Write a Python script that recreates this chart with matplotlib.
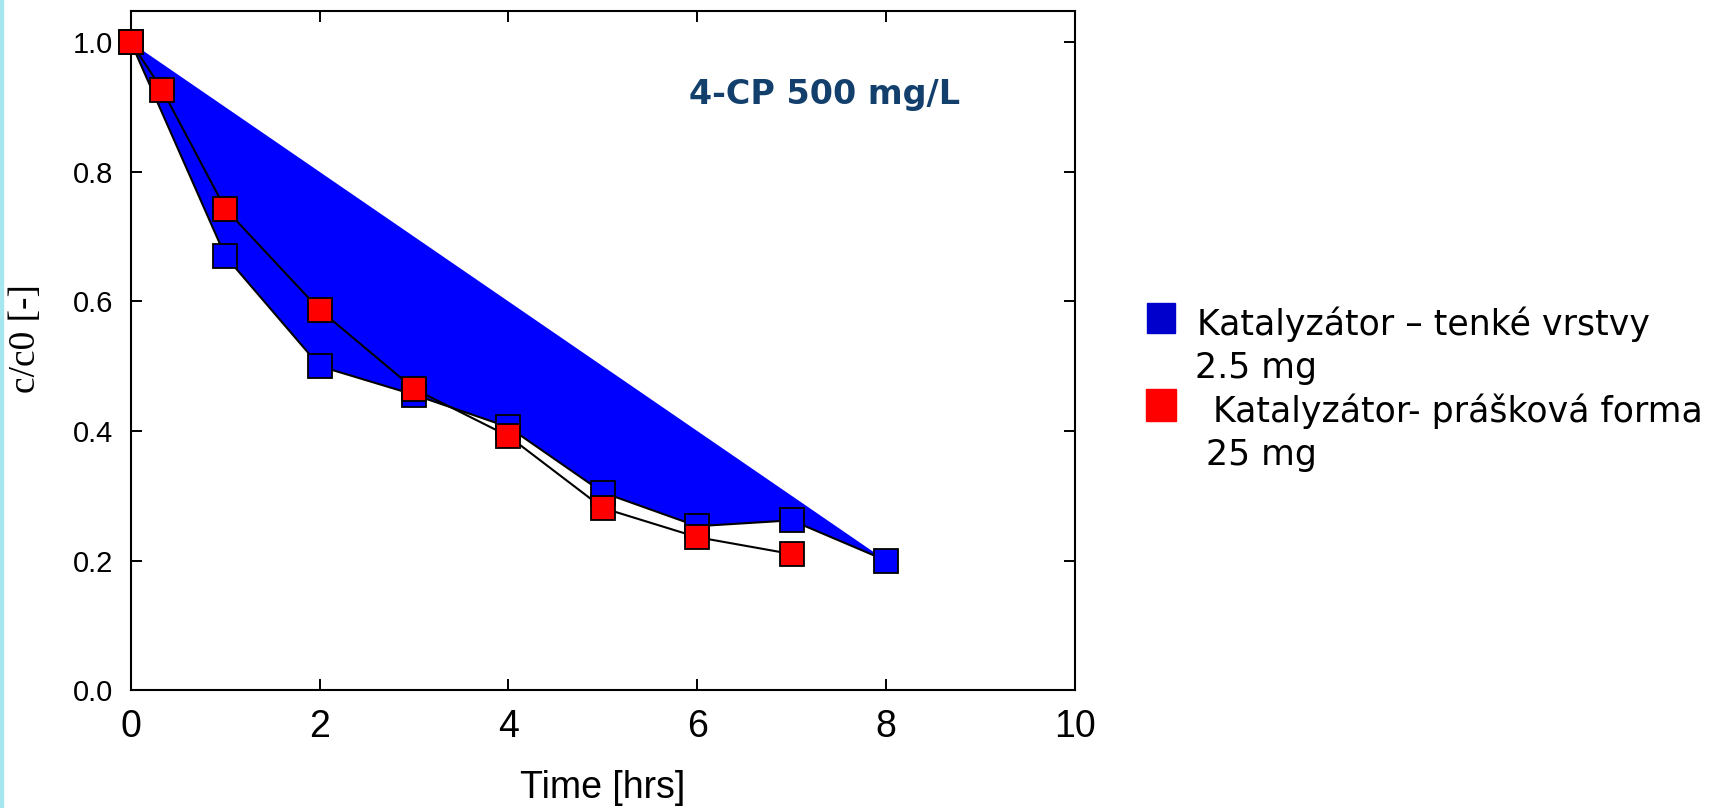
import matplotlib
matplotlib.use("Agg")
import matplotlib.pyplot as plt
from matplotlib.patches import Rectangle

# data
t_blue = [0, 1, 2, 3, 4, 5, 6, 7, 8]
c_blue = [1.0, 0.670, 0.500, 0.456, 0.406, 0.305, 0.253, 0.262, 0.200]
t_red = [0, 0.33, 1, 2, 3, 4, 5, 6, 7]
c_red = [1.0, 0.927, 0.743, 0.587, 0.465, 0.392, 0.281, 0.236, 0.210]

x_ticks = [0, 2, 4, 6, 8, 10]
y_ticks = [0.0, 0.2, 0.4, 0.6, 0.8, 1.0]

fig = plt.figure(figsize=(17.1, 8.08), dpi=100)
ax = fig.add_axes([0.0766, 0.146, 0.5519, 0.8408])

# filled area of the thin-layer series, then outlines
ax.fill(t_blue, c_blue, color="#0000FF", lw=0, zorder=1)
ax.plot(t_blue, c_blue, color="black", lw=1.5, zorder=2)
ax.plot(t_red, c_red, color="black", lw=1.5, zorder=3)
ax.plot(t_blue, c_blue, ls="none", marker="s", ms=17, mfc="#0000FF",
        mec="black", mew=1.3, zorder=4, clip_on=False)
ax.plot(t_red, c_red, ls="none", marker="s", ms=17, mfc="#FF0000",
        mec="black", mew=1.3, zorder=5, clip_on=False)

ax.set_xlim(0, 10)
ax.set_ylim(0, 1.049)
ax.set_xticks(x_ticks)
ax.set_xticklabels([str(v) for v in x_ticks],
                   family=["Liberation Sans Narrow", "Liberation Sans"], fontsize=27)
ax.set_yticks(y_ticks)
ax.set_yticklabels([f"{v:.1f}" for v in y_ticks], family="Liberation Sans", fontsize=21)
ax.tick_params(direction="in", length=8, width=1.4, top=True, right=True)
ax.tick_params(axis="y", pad=13)
ax.tick_params(axis="x", pad=14)
for s in ax.spines.values():
    s.set_linewidth(1.5)

ax.set_xlabel("Time [hrs]", family="Liberation Sans", fontsize=27)
ax.xaxis.set_label_coords(0.5, -0.117)
ax.set_ylabel("c/c0 [-]", family="Liberation Serif", fontsize=27, va="center")
ax.yaxis.set_label_coords(-0.112, 0.518)

ax.text(0.735, 0.877, "4-CP 500 mg/L", transform=ax.transAxes, ha="center",
        va="center", fontsize=24, fontweight="bold", color="#123F6C",
        family="DejaVu Sans")

# legend drawn by hand to mimic the layout
W, H = 1710, 808
def fx(px):
    return px / W
def fy(py):
    return 1 - py / H

fig.patches.append(Rectangle((fx(1147), fy(333)), 28 / W, 30 / H,
                             color="#0000CC", transform=fig.transFigure))
fig.patches.append(Rectangle((fx(1146), fy(421)), 30 / W, 32 / H,
                             color="#FF0000", transform=fig.transFigure))
leg_font = dict(fontsize=25, family="DejaVu Sans", va="baseline", ha="left")
fig.text(fx(1197), fy(335), "Katalyzátor – tenké vrstvy", **leg_font)
fig.text(fx(1195), fy(378), "2.5 mg", **leg_font)
fig.text(fx(1213), fy(422), "Katalyzátor- prášková forma", **leg_font)
fig.text(fx(1206), fy(465), "25 mg", **leg_font)

# thin cyan strip at the left edge of the slide
fig.patches.append(Rectangle((0, 0), 3 / W, 1, color="#A6E6F0",
                             transform=fig.transFigure))

fig.savefig("out.png", dpi=100)
